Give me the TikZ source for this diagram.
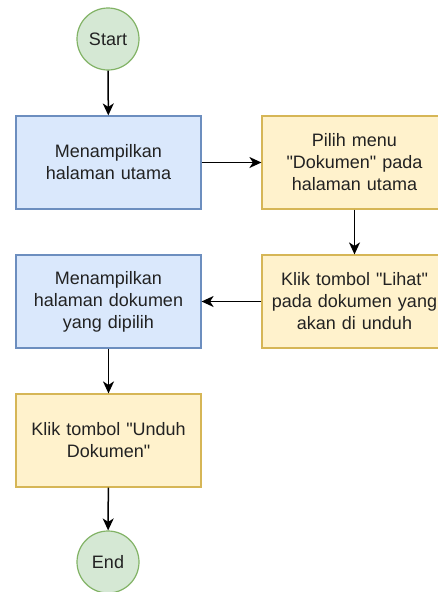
\documentclass[tikz,border=0pt]{standalone}
\usepackage{fontspec}
\newfontfamily\lsans{Liberation Sans}
\usetikzlibrary{arrows.meta}
\definecolor{bluefill}{HTML}{DAE8FC}
\definecolor{bluedraw}{HTML}{6C8EBF}
\definecolor{yelfill}{HTML}{FFF2CC}
\definecolor{yeldraw}{HTML}{D6B656}
\definecolor{grnfill}{HTML}{D5E8D4}
\definecolor{grndraw}{HTML}{82B366}
\definecolor{txt}{HTML}{222222}
\tikzset{
  base/.style={line width=1.2pt, text=txt, font=\lsans\fontsize{18}{22}\selectfont, align=center, inner sep=0pt},
  procblue/.style={base, rectangle, fill=bluefill, draw=bluedraw, minimum width=185pt, minimum height=93pt, text width=175pt},
  procyel/.style={base, rectangle, fill=yelfill, draw=yeldraw, minimum width=185pt, minimum height=93pt, text width=175pt},
  term/.style={base, circle, fill=grnfill, draw=grndraw, minimum size=62pt},
  conn/.style={line width=1.5pt, -{Stealth[length=12pt,width=11pt,inset=3.5pt]}}
}
\begin{document}
\begin{tikzpicture}[x=1pt,y=-1pt]
\useasboundingbox (0,0) rectangle (438,592);
\clip (0,0) rectangle (438,592);
\node[term] (start) at (108,39) {Start};
\node[procblue] (b1) at (108.5,162.5) {Menampilkan\\halaman utama};
\node[procyel] (b2) at (354.5,162.5) {Pilih menu\\"Dokumen" pada\\halaman utama};
\node[procyel] (b3) at (354.5,301.5) {Klik tombol "Lihat"\\pada dokumen yang\\akan di unduh};
\node[procblue] (b4) at (108.5,301.5) {Menampilkan\\halaman dokumen\\yang dipilih};
\node[procyel] (b5) at (108.5,440.5) {Klik tombol "Unduh\\Dokumen"};
\node[term] (end) at (108,562) {End};
\draw[conn] (start) -- (b1);
\draw[conn] (b1) -- (b2);
\draw[conn] (b2) -- (b3);
\draw[conn] (b3) -- (b4);
\draw[conn] (b4) -- (b5);
\draw[conn] (b5) -- (end);
\end{tikzpicture}
\end{document}
